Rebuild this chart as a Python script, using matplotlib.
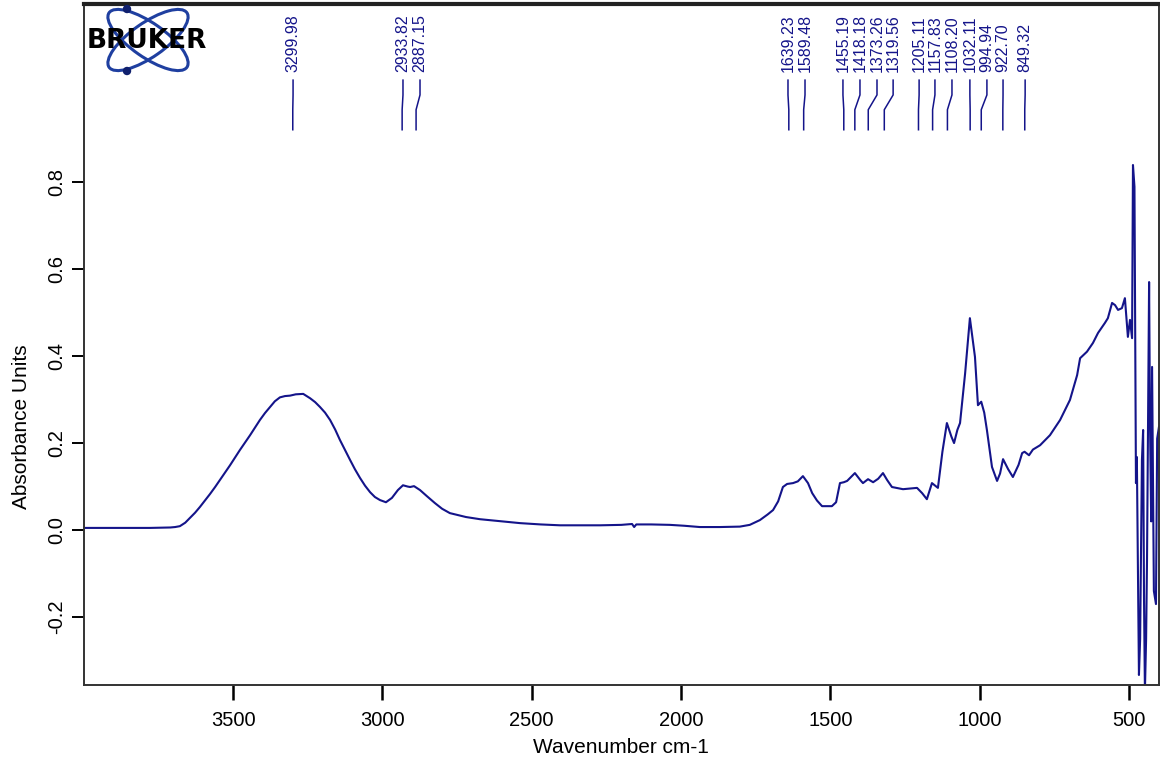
import matplotlib
matplotlib.use("Agg")
import matplotlib.pyplot as plt
from matplotlib.patches import Ellipse, Circle

plt.rcParams['font.family'] = ['Liberation Sans', 'DejaVu Sans']
plt.rcParams['axes.unicode_minus'] = False

# spectrum (wavenumber, absorbance)
wavenumber = [3999, 3878, 3778, 3710, 3694, 3678, 3660, 3644, 3627, 3611, 3594, 3577,
              3560, 3544, 3527, 3510, 3477, 3443, 3410, 3393, 3376, 3360, 3343, 3326,
              3309, 3290, 3265, 3242, 3225, 3209, 3192, 3175, 3158, 3142, 3125, 3108,
              3092, 3075, 3058, 3041, 3025, 3008, 2988, 2968, 2948, 2931, 2915, 2907,
              2894, 2874, 2851, 2824, 2800, 2774, 2720, 2673, 2600, 2539, 2470, 2405,
              2340, 2271, 2200, 2164, 2157, 2150, 2100, 2037, 1990, 1937, 1870, 1803,
              1770, 1736, 1710, 1692, 1675, 1659, 1645, 1625, 1609, 1592, 1575, 1561,
              1545, 1528, 1495, 1481, 1468, 1455, 1444, 1418, 1400, 1391, 1374, 1357,
              1340, 1324, 1310, 1294, 1257, 1210, 1193, 1177, 1160, 1140, 1125, 1110,
              1095, 1086, 1075, 1066, 1049, 1033, 1024, 1016, 1006, 995, 985, 976, 959,
              942, 932, 922, 905, 889, 870, 858, 850, 835, 822, 798, 765, 731, 698, 674,
              664, 641, 621, 604, 581, 571, 557, 547, 537, 524, 514, 504, 497, 490, 487,
              482, 477, 474, 467, 463, 460, 457, 453, 450, 447, 443, 440, 433, 430, 426,
              423, 417, 410, 406, 400]
absorbance = [0.005, 0.005, 0.005, 0.006, 0.007, 0.009, 0.017, 0.028, 0.040, 0.053, 0.068, 0.083,
              0.099, 0.115, 0.132, 0.149, 0.184, 0.218, 0.253, 0.269, 0.283, 0.296, 0.305, 0.308,
              0.309, 0.312, 0.313, 0.303, 0.294, 0.283, 0.270, 0.253, 0.231, 0.207, 0.184, 0.161,
              0.140, 0.120, 0.102, 0.087, 0.076, 0.069, 0.064, 0.074, 0.092, 0.103, 0.100, 0.099,
              0.101, 0.092, 0.078, 0.062, 0.049, 0.039, 0.030, 0.025, 0.020, 0.016, 0.013, 0.011,
              0.011, 0.011, 0.012, 0.014, 0.007, 0.013, 0.013, 0.012, 0.010, 0.007, 0.007, 0.008,
              0.012, 0.023, 0.036, 0.046, 0.066, 0.099, 0.106, 0.108, 0.112, 0.124, 0.108, 0.085,
              0.068, 0.055, 0.055, 0.064, 0.108, 0.110, 0.113, 0.131, 0.115, 0.108, 0.117, 0.110,
              0.118, 0.131, 0.115, 0.099, 0.094, 0.097, 0.085, 0.071, 0.108, 0.097, 0.180, 0.246,
              0.215, 0.200, 0.230, 0.246, 0.360, 0.487, 0.440, 0.398, 0.287, 0.295, 0.270, 0.230, 0.145,
              0.113, 0.130, 0.163, 0.140, 0.122, 0.150, 0.177, 0.180, 0.172, 0.185, 0.195, 0.218, 0.253, 0.299, 0.356,
              0.395, 0.410, 0.430, 0.453, 0.476, 0.487, 0.522, 0.517, 0.506, 0.510, 0.533, 0.444, 0.483, 0.441, 0.839,
              0.789, 0.108, 0.168, -0.333, -0.250, -0.046, 0.161, 0.230, -0.160, -0.370, -0.250, -0.070, 0.570, 0.250, 0.020,
              0.375, -0.140, -0.170, 0.210, 0.237]

# peak picks and where their labels sit
peak_values = [3299.98, 2933.82, 2887.15, 1639.23, 1589.48, 1455.19, 1418.18, 1373.26,
               1319.56, 1205.11, 1157.83, 1108.20, 1032.11, 994.94, 922.70, 849.32]
label_pos = [3299, 2931, 2874, 1642, 1585, 1458, 1401, 1344,
             1290, 1203, 1150, 1093, 1033, 976, 922, 848]

navy = '#14148a'

fig = plt.figure(figsize=(11.6, 7.67), dpi=100)
ax = fig.add_axes([0.0724, 0.1069, 0.9267, 0.8879])
ax.plot(wavenumber, absorbance, color=navy, lw=1.5, solid_joinstyle='round')

ax.set_xlim(3999, 400)
ax.set_ylim(-0.356, 1.209)
ax.set_xticks([3500, 3000, 2500, 2000, 1500, 1000, 500])
ax.set_yticks([-0.2, 0.0, 0.2, 0.4, 0.6, 0.8])
ax.set_yticklabels(['-0.2', '0.0', '0.2', '0.4', '0.6', '0.8'])
ax.tick_params(axis='x', length=11, width=1.8, labelsize=14.5, pad=8)
ax.tick_params(axis='y', length=9, width=1.4, labelsize=14.5, pad=4,
               labelrotation=90)
for lab in ax.get_yticklabels():
    lab.set_va('center')

for side in ['left', 'right', 'bottom']:
    ax.spines[side].set_linewidth(1.4)
    ax.spines[side].set_color('#333333')
ax.spines['top'].set_linewidth(3)
ax.spines['top'].set_color('#222222')

ax.set_xlabel('Wavenumber cm-1', fontsize=15)
ax.set_ylabel('Absorbance Units', fontsize=15)
ax.xaxis.set_label_coords(0.4995, -0.078)
ax.yaxis.set_label_coords(-0.049, 0.38)

# peak labels with leader lines
for pk, lp in zip(peak_values, label_pos):
    ax.plot([lp, lp, pk, pk], [1.034, 1.0, 0.966, 0.92], color=navy, lw=1.1)
    ax.text(lp, 1.053, f'{pk:.2f}', rotation=90, ha='center', va='bottom',
            fontsize=11.5, color=navy)

# Bruker logo
lax = fig.add_axes([0, 0, 1, 1], zorder=5)
lax.set_xlim(0, 1160)
lax.set_ylim(767, 0)
lax.axis('off')
lax.patch.set_alpha(0)
logo_blue = '#1f3fa0'
for ang in (35, -35):
    lax.add_patch(Ellipse((148, 40), 95, 34, angle=ang, fill=False,
                          ec=logo_blue, lw=2.2))
lax.add_patch(Circle((127, 9), 3.5, color='#10206e'))
lax.add_patch(Circle((127, 71), 3.5, color='#10206e'))
lax.text(147, 41, 'BRUKER', ha='center', va='center', fontsize=19,
         fontweight='heavy', family='DejaVu Sans', color='black')

fig.savefig('out.png', dpi=100)
